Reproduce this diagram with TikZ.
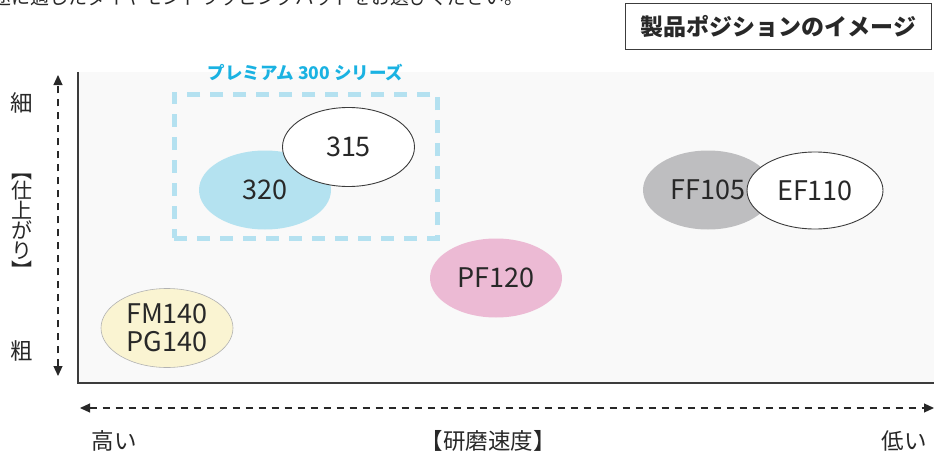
\documentclass[tikz,border=0pt]{standalone}
\usepackage{fontspec}
\setmainfont{Noto Sans CJK JP}
\usetikzlibrary{arrows.meta,shapes.geometric}
\definecolor{plotgray}{RGB}{249,249,249}
\definecolor{inkgray}{RGB}{40,40,40}
\definecolor{framegray}{RGB}{60,60,60}
\definecolor{seriescyan}{RGB}{26,178,226}
\definecolor{seriesblue}{RGB}{180,225,240}
\definecolor{softcyan}{RGB}{180,226,240}
\definecolor{softsilver}{RGB}{190,190,192}
\definecolor{softpink}{RGB}{236,186,212}
\definecolor{softcream}{RGB}{250,244,210}
\tikzset{
  prod/.style={ellipse, inner sep=0pt, minimum width=132pt, minimum height=79pt, align=center, text=inkgray, font=\fontsize{27}{28}\selectfont},
  outlined/.style={prod, fill=white, draw=framegray, line width=0.9pt},
  axis/.style={{Triangle[length=10pt,width=9pt]}-{Triangle[length=10pt,width=9pt]}, line width=1.1pt, draw=inkgray, dash pattern=on 7pt off 6pt},
  axislabel/.style={inner sep=0pt, text=inkgray, font=\fontsize{22.5}{20}\selectfont, align=center},
  titlebox/.style={rectangle, draw=framegray, line width=1.3pt, fill=white, minimum width=306pt, minimum height=46pt, text=inkgray, font=\bfseries\fontsize{23}{23}\selectfont},
  seriesbox/.style={rectangle, draw=seriesblue, line width=5pt, dash pattern=on 13pt off 10pt, minimum width=263pt, minimum height=144pt},
  serieslabel/.style={inner sep=0pt, text=seriescyan, font=\bfseries\fontsize{17.5}{18}\selectfont}
}
\begin{document}
\begin{tikzpicture}[x=1pt, y=-1pt]
\useasboundingbox (0,0) rectangle (934,452);
% lead line, cut by the top edge
\node[anchor=base west, inner sep=0pt, text=inkgray, font=\fontsize{19}{19}\selectfont] (lead) at (-27,5) {用途に適したダイヤモンドラッピングパッドをお選びください。};
\node[titlebox] (title) at (778.5,26.5) {製品ポジションのイメージ};
% plot area
\fill[plotgray] (78,72) rectangle (934,383);
\draw[framegray, line width=1.1pt] (78,72) -- (78,383) -- (934,383);
% axes
\coordinate (ytop) at (58,75);
\coordinate (ybot) at (58,376);
\coordinate (xleft) at (80,408);
\coordinate (xright) at (934,408);
\draw[axis] (ybot) -- (ytop);
\draw[axis] (xleft) -- (xright);
\node[axislabel, font=\fontsize{21}{20}\selectfont] (finish) at (22,226) {︻\\仕\\上\\が\\り\\︼};
\node[axislabel] (fine) at (22,103) {細};
\node[axislabel] (coarse) at (22,351) {粗};
\node[axislabel] (fast) at (114,441) {高い};
\node[axislabel] (speed) at (488,441) {【研磨速度】};
\node[axislabel] (slow) at (904,441) {低い};
% premium series
\node[seriesbox] (series) at (305.5,166) {};
\node[serieslabel] (serieslbl) at (305.5,72.5) {プレミアム 300 シリーズ};
\node[prod, fill=softcyan] (p320) at (265,190) {320};
\node[outlined] (p315) at (348.5,147) {315};
% other products
\node[prod, fill=softsilver, minimum width=130pt] (ff105) at (708,190) {FF105};
\node[outlined, minimum width=136pt, minimum height=77pt] (ef110) at (815,190.5) {EF110};
\node[prod, fill=softpink] (pf120) at (496,278) {PF120};
\node[prod, fill=softcream, draw=black!30, line width=0.6pt] (fm140) at (167,328) {FM140\\PG140};
\end{tikzpicture}
\end{document}
